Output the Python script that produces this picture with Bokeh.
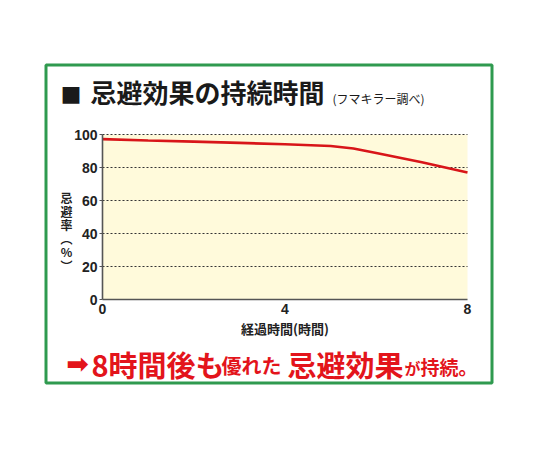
# repel_plot.py
# Duration of repellent effect (line chart) recreated with bokeh

from bokeh.plotting import figure
from bokeh.models import Range1d, LinearAxis, FixedTicker
from bokeh.core.properties import value
from bokeh.embed import file_html
from bokeh.resources import INLINE

# data
hours = [0, 1, 2, 3, 4, 5, 5.5, 6, 7, 8]
repel_rate = [97.2, 96.4, 95.7, 94.9, 94.1, 93.0, 91.5, 88.8, 83.2, 77.0]
x_ticks = [0, 4, 8]
y_ticks = [0, 20, 40, 60, 80, 100]

title_text = "忌避効果の持続時間"
title_note = "(フマキラー調べ)"
x_label = "経過時間(時間)"
y_label_chars = ["忌", "避", "率", "︵", "%", "︶"]

JP = "Noto Sans CJK JP"
NUM = "Liberation Sans"
RED = "#e3141b"
GREEN = "#2f9a4f"
INK = "#1a1a1a"

W, H = 524, 434
# where the plot area sits on the card, in pixels from the top left
X0_PX, X1_PX = 102, 467
Y0_PX, Y1_PX = 299, 134

kx = (X1_PX - X0_PX) / (x_ticks[-1] - x_ticks[0])
ky = (Y0_PX - Y1_PX) / (y_ticks[-1] - y_ticks[0])


def top(y):
    # pixels from the top -> pixel range value (counted from the bottom)
    return H - y


# the frame is the whole card; the data ranges are stretched so that
# the chart lands on its plot area, and a pixel range carries the texts
p = figure(
    width=W,
    height=H,
    output_backend="svg",
    toolbar_location=None,
    x_range=Range1d(x_ticks[0] - X0_PX / kx, x_ticks[-1] + (W - X1_PX) / kx),
    y_range=Range1d(y_ticks[0] - (H - Y0_PX) / ky, y_ticks[-1] + Y1_PX / ky),
    x_axis_location=None,
    y_axis_location=None,
    min_border=0,
)
p.extra_x_ranges = {"px": Range1d(0, W)}
p.extra_y_ranges = {"px": Range1d(0, H)}
p.outline_line_color = None
p.background_fill_color = "white"
p.border_fill_color = "white"
p.grid.visible = False

# plot area
p.quad(left=x_ticks[0], right=x_ticks[-1], bottom=y_ticks[0], top=y_ticks[-1],
       fill_color="#fffadb", line_color=None)
p.segment(x0=[x_ticks[0]] * (len(y_ticks) - 1), x1=[x_ticks[-1]] * (len(y_ticks) - 1),
          y0=y_ticks[1:], y1=y_ticks[1:], line_color="#333333", line_width=1, line_dash="2 2")

p.line(hours, repel_rate, color="#d81519", line_width=2.6)

yaxis = LinearAxis(fixed_location=x_ticks[0], bounds=(y_ticks[0], y_ticks[-1]),
                   ticker=FixedTicker(ticks=y_ticks))
xaxis = LinearAxis(fixed_location=y_ticks[0], bounds=(x_ticks[0], x_ticks[-1]),
                   ticker=FixedTicker(ticks=x_ticks), axis_label=x_label)
for ax in (xaxis, yaxis):
    ax.axis_line_color = "#555555"
    ax.axis_line_width = 1.6
    ax.major_label_text_font = NUM
    ax.major_label_text_font_style = "bold"
    ax.major_label_text_font_size = "14px"
    ax.major_label_text_color = "#222222"
    ax.minor_tick_line_color = None
xaxis.major_tick_line_color = None
xaxis.major_tick_out = 0
xaxis.major_tick_in = 0
xaxis.major_label_standoff = 4
xaxis.axis_label_text_font = JP
xaxis.axis_label_text_font_style = "bold"
xaxis.axis_label_text_font_size = "13px"
xaxis.axis_label_text_color = "#222222"
xaxis.axis_label_standoff = 2
yaxis.major_tick_out = 3
yaxis.major_tick_in = 0
yaxis.major_tick_line_color = "#555555"
yaxis.major_label_standoff = 2
p.add_layout(yaxis, "left")
p.add_layout(xaxis, "below")

# y axis label, written vertically: one upright character per line
p.text(x=[66], y=[top(231)], text=["\n".join(y_label_chars)], text_font=value(JP),
       text_font_style="bold", text_font_size="12px", text_line_height=0.8,
       text_color="#222222", text_align="center", text_baseline="middle",
       x_range_name="px", y_range_name="px")

# green frame round the card
p.quad(left=45.5, right=491.5, top=top(64.5), bottom=top(382.5), fill_color=None,
       line_color=GREEN, line_width=3, x_range_name="px", y_range_name="px")

# title
p.text(x=[70.5], y=[top(93.5)], text=["■"], text_font=value(JP), text_font_size="21px",
       text_color=INK, text_align="center", text_baseline="middle",
       x_range_name="px", y_range_name="px")
p.text(x=[90], y=[top(91)], text=[title_text], text_font=value(JP), text_font_style="bold",
       text_font_size="26px", text_color=INK, text_baseline="middle",
       x_range_name="px", y_range_name="px")
p.text(x=[332], y=[top(98)], text=[title_note], text_font=value(JP), text_font_size="12px",
       text_color=INK, text_baseline="middle", x_range_name="px", y_range_name="px")

# red message under the chart
p.text(x=[77], y=[top(363)], text=["➡"], text_font=value("DejaVu Sans"), text_font_size="27px",
       text_font_style="bold", text_color=RED, text_align="center", text_baseline="middle",
       x_range_name="px", y_range_name="px")
segments = [
    ("8時間後も", 91, 29, 363.5),
    ("優れた", 221, 20, 365),
    ("忌避効果", 287, 29, 363.5),
    ("が", 404, 16, 367),
    ("持続。", 420, 19, 365.5),
]
for text, x, size, y in segments:
    p.text(x=[x], y=[top(y)], text=[text], text_font=value(JP), text_font_style="bold",
           text_font_size=f"{size}px", text_color=RED, text_baseline="middle",
           x_range_name="px", y_range_name="px")

open("out.html", "w").write(file_html(p, INLINE))
